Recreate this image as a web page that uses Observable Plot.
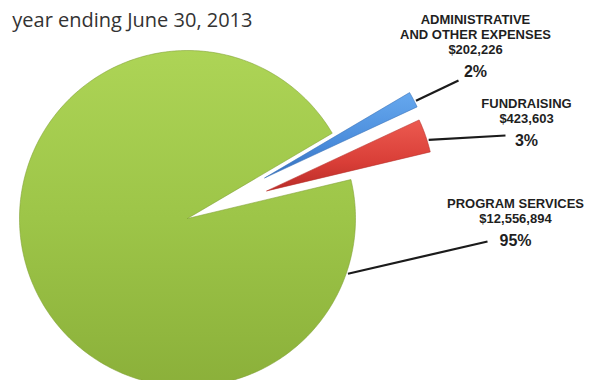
<!DOCTYPE html>
<html>
<head>
<meta charset="utf-8">
<script src="https://cdn.jsdelivr.net/npm/d3@7"></script>
<script src="https://cdn.jsdelivr.net/npm/@observablehq/plot@0.6"></script>
<style>
  html, body { margin: 0; padding: 0; background: #fff; overflow: hidden; }
  #chart { position: relative; width: 590px; height: 380px; }
</style>
</head>
<body>
<div id="chart"></div>
<script>
// ---- data ----
const titleLine = "year ending June 30, 2013";
const categories = ["PROGRAM SERVICES", "FUNDRAISING", "ADMINISTRATIVE\nAND OTHER EXPENSES"];
const amounts = [12556894, 423603, 202226];
const amountLabels = ["$12,556,894", "$423,603", "$202,226"];
const percentLabels = ["95%", "3%", "2%"];

// ---- layout / style ----
const W = 590, H = 380;
const center = {x: 187, y: 218};
const radius = 168;
const startDeg = 30.5;               // pie starts here, slices go counter-clockwise
const explode = [0, 0.5, 0.52];      // fraction of radius each slice is pulled out
const fills = ["url(#gGreen)", "url(#gRed)", "url(#gBlue)"];
const edges = ["#7f9f33", "#b52c28", "#3a72b8"];
const leaderAngle = [-19, 17.5, 27]; // degrees, where leader leaves the slice
const leaderEnd = [{x: 487, y: 241}, {x: 505, y: 135}, {x: 458, y: 80}];
const labelPos = [{x: 515, y: 207}, {x: 526, y: 107}, {x: 475, y: 23}];
const lineStep = 15, pctGap = 23;

// ---- geometry from values ----
const total = d3.sum(amounts);
const rad = d => d * Math.PI / 180;
let acc = startDeg;
const slices = amounts.map((v, i) => {
  const a0 = acc, a1 = acc + v / total * 360;
  acc = a1;
  const mid = (a0 + a1) / 2;
  const ox = center.x + explode[i] * radius * Math.cos(rad(mid));
  const oy = center.y - explode[i] * radius * Math.sin(rad(mid));
  const pts = [{x: ox, y: oy}];
  const n = Math.max(8, Math.ceil(a1 - a0));
  for (let k = 0; k <= n; k++) {
    const a = a0 + (a1 - a0) * k / n;
    pts.push({x: ox + radius * Math.cos(rad(a)), y: oy - radius * Math.sin(rad(a))});
  }
  pts.push({x: ox, y: oy});
  return {i, a0, a1, ox, oy, pts};
});

const leaders = slices.map((s, i) => ({
  x1: s.ox + radius * 1.01 * Math.cos(rad(leaderAngle[i])),
  y1: s.oy - radius * 1.01 * Math.sin(rad(leaderAngle[i])),
  x2: leaderEnd[i].x, y2: leaderEnd[i].y
}));

const textRows = [];
const pctRows = [];
categories.forEach((c, i) => {
  const lines = c.split("\n").concat([amountLabels[i]]);
  lines.forEach((t, k) => textRows.push({t, x: labelPos[i].x, y: labelPos[i].y + k * lineStep}));
  pctRows.push({t: percentLabels[i], x: labelPos[i].x, y: labelPos[i].y + (lines.length - 1) * lineStep + pctGap});
});

const titleFont = "'Open Sans', 'DejaVu Sans', sans-serif";
const labelFont = "'Liberation Sans', Arial, sans-serif";

const plot = Plot.plot({
  width: W, height: H,
  margin: 0,
  x: {domain: [0, W], range: [0, W], axis: null},
  y: {domain: [0, H], range: [0, H], axis: null},
  style: {background: "#fff", fontFamily: titleFont},
  marks: [
    ...slices.map((s, i) => Plot.line(s.pts, {
      x: "x", y: "y", fill: fills[i], stroke: edges[i], strokeWidth: 0.8, strokeOpacity: 0.7
    })),
    Plot.link(leaders, {x1: "x1", y1: "y1", x2: "x2", y2: "y2", stroke: "#1b1b1b", strokeWidth: 2.2}),
    Plot.text(textRows, {x: "x", y: "y", text: "t", textAnchor: "middle", lineAnchor: "bottom",
      fontSize: 13, fontWeight: 700, fill: "#1f1f1f", fontFamily: labelFont}),
    Plot.text(pctRows, {x: "x", y: "y", text: "t", textAnchor: "middle", lineAnchor: "bottom",
      fontSize: 16, fontWeight: 700, fill: "#1f1f1f", fontFamily: labelFont}),
    Plot.text([titleLine], {x: () => 252, y: () => 26, text: d => d, textAnchor: "end", lineAnchor: "bottom",
      fontSize: 20, fontWeight: 400, fill: "#333", fontFamily: titleFont})
  ]
});

// gradient definitions for the shaded slices
const ns = "http://www.w3.org/2000/svg";
const defs = document.createElementNS(ns, "defs");
const grads = [
  ["gGreen", [[0, "#add456"], [0.5, "#9dc548"], [1, "#8bb03a"]]],
  ["gRed", [[0, "#ec5a50"], [0.6, "#d93e37"], [1, "#b92c28"]]],
  ["gBlue", [[0, "#66a8ee"], [0.6, "#4a8cdb"], [1, "#3570bd"]]]
];
for (const [id, stops] of grads) {
  const g = document.createElementNS(ns, "linearGradient");
  g.setAttribute("id", id);
  g.setAttribute("x1", "0"); g.setAttribute("y1", "0");
  g.setAttribute("x2", "0"); g.setAttribute("y2", "1");
  for (const [o, c] of stops) {
    const s = document.createElementNS(ns, "stop");
    s.setAttribute("offset", o);
    s.setAttribute("stop-color", c);
    g.appendChild(s);
  }
  defs.appendChild(g);
}
plot.insertBefore(defs, plot.firstChild);
document.getElementById("chart").appendChild(plot);
</script>
</body>
</html>
